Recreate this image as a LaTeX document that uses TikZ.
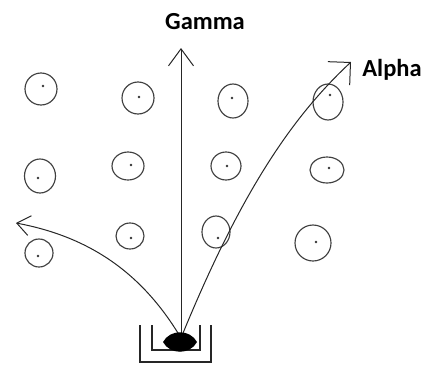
\documentclass[tikz,border=0pt]{standalone}
\usepackage{fontspec}
\setmainfont{Carlito}
\usetikzlibrary{arrows.meta}
\tikzset{>={Straight Barb[length=16pt,width=24pt]}}
\tikzset{
  ray/.style={line width=1pt,black!85},
  atomline/.style={line width=1.15pt,black!75},
  cup/.style={line width=1.2pt,black!85},
  tag/.style={font=\fontsize{24.5}{28}\selectfont\bfseries,inner sep=0pt}
}
\newcommand*{\atom}[6]
  {\draw[atomline] (#1,#2) ellipse ({#3} and {#4});
   \fill[black!80] (#5,#6) circle (1.3)}

\begin{document}
\begin{tikzpicture}[x=1pt,y=-1pt]
\useasboundingbox (0,0) rectangle (427,364);
\foreach \x/\y/\rx/\ry/\dx/\dy in {
  41/89/16/16/43/86, 138/98/16/16/139/97, 233/101/15/17/232/98, 328/102/15/18/330/95,
  40/176/15.5/17/38/178, 128/166/16/14/131/165, 226/166/15/14/227/166, 327/170/17/13/329/168,
  39/253/14/14/38/256, 130/236/14/13/131/238, 216/232/14/16/218/238, 313/243/18/18/316/242}
  \atom{\x}{\y}{\rx}{\ry}{\dx}{\dy};
% source in its holder
\draw[cup] (140,325) |- (211,362) -- (211,325);
\draw[cup] (152,325) |- (200,350) -- (200,325);
\coordinate (src) at (181,338);
\coordinate (gammaend) at (181,48);
\coordinate (alphaend) at (351,62);
\coordinate (backend) at (16,223);
\draw[ray,-{Straight Barb[length=17pt,width=25pt]}] (src) -- (gammaend);
\draw[ray,-{Straight Barb[length=16pt,width=32pt]}] (src)
  .. controls (241,191) and (293,116) .. (alphaend);
\draw[ray,-{Straight Barb[length=13pt,width=20pt]}] (src)
  .. controls (140,269) and (85,236) .. (backend);
\fill (163,342) .. controls (170,329) and (190,329) .. (197,342)
  .. controls (190,355) and (170,355) .. cycle;
\node[tag] (gamma) at (205,22) {Gamma};
\node[tag] (alpha) at (392,70) {Alpha};
\end{tikzpicture}
\end{document}
